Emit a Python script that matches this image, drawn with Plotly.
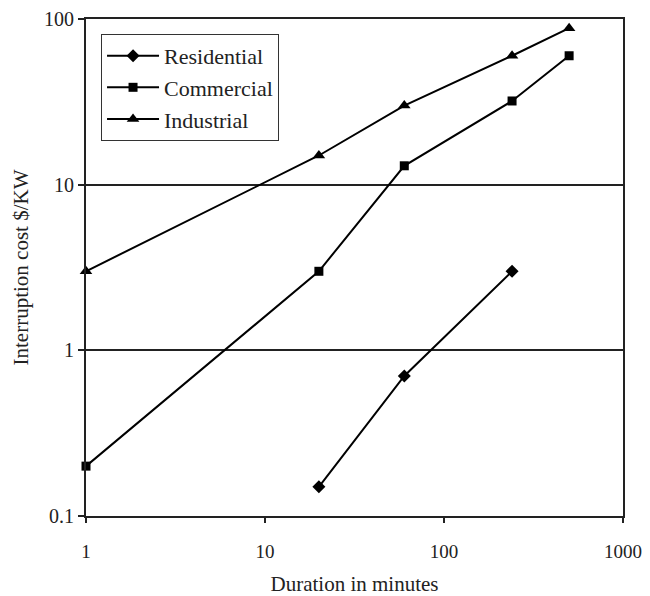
import plotly.graph_objects as go

durations_ind = [1, 20, 60, 240, 500]
industrial = [3, 15, 30, 60, 88]
durations_com = [1, 20, 60, 240, 500]
commercial = [0.2, 3, 13, 32, 60]
durations_res = [20, 60, 240]
residential = [0.15, 0.7, 3]

x_ticks = [1, 10, 100, 1000]
x_labels = ["1", "10", "100", "1000"]
y_ticks = [0.1, 1, 10, 100]
y_labels = ["0.1", "1", "10", "100"]

FONT = "Liberation Serif"
TXT = "#222"

fig = go.Figure()
fig.add_trace(go.Scatter(x=durations_res, y=residential, name="Residential",
                         mode="lines+markers", cliponaxis=False,
                         line=dict(color="black", width=2),
                         marker=dict(symbol="diamond", size=10, color="black")))
fig.add_trace(go.Scatter(x=durations_com, y=commercial, name="Commercial",
                         mode="lines+markers", cliponaxis=False,
                         line=dict(color="black", width=2),
                         marker=dict(symbol="square", size=9, color="black")))
fig.add_trace(go.Scatter(x=durations_ind, y=industrial, name="Industrial",
                         mode="lines+markers", cliponaxis=False,
                         line=dict(color="black", width=2),
                         marker=dict(symbol="triangle-up", size=11, color="black")))

fig.update_layout(
    width=642, height=588,
    margin=dict(l=78, r=27, t=11, b=80),
    paper_bgcolor="white", plot_bgcolor="white",
    font=dict(family=FONT, size=20, color=TXT),
    showlegend=True,
    legend=dict(x=0.028, y=0.97, xanchor="left", yanchor="top",
                bordercolor="#333", borderwidth=1, bgcolor="white",
                font=dict(family=FONT, size=22, color=TXT),
                tracegroupgap=0, itemwidth=52),
    xaxis=dict(type="log", range=[0, 3], tickvals=x_ticks, ticktext=x_labels,
               automargin=False, ticklabeloverflow="allow",
               showgrid=False, zeroline=False, showline=True, linecolor="#222",
               linewidth=2, mirror=True, ticks="outside", ticklen=5,
               tickcolor="#222", tickwidth=2, ticklabelstandoff=12,
               tickfont=dict(family=FONT, size=19, color=TXT),
               title=dict(text="Duration in minutes", standoff=23,
                          font=dict(family=FONT, size=21, color=TXT))),
    yaxis=dict(type="log", range=[-1, 2], tickvals=y_ticks, ticktext=y_labels,
               automargin=False, ticklabeloverflow="allow",
               showgrid=True, gridcolor="#222", gridwidth=2, zeroline=False,
               showline=True, linecolor="#222", linewidth=2, mirror=True,
               ticks="outside", ticklen=6, tickcolor="#222", tickwidth=2,
               tickfont=dict(family=FONT, size=20, color=TXT),
               title=dict(text="Interruption cost $/KW", standoff=10,
                          font=dict(family=FONT, size=21, color=TXT))),
)

fig.write_html("out.html")
